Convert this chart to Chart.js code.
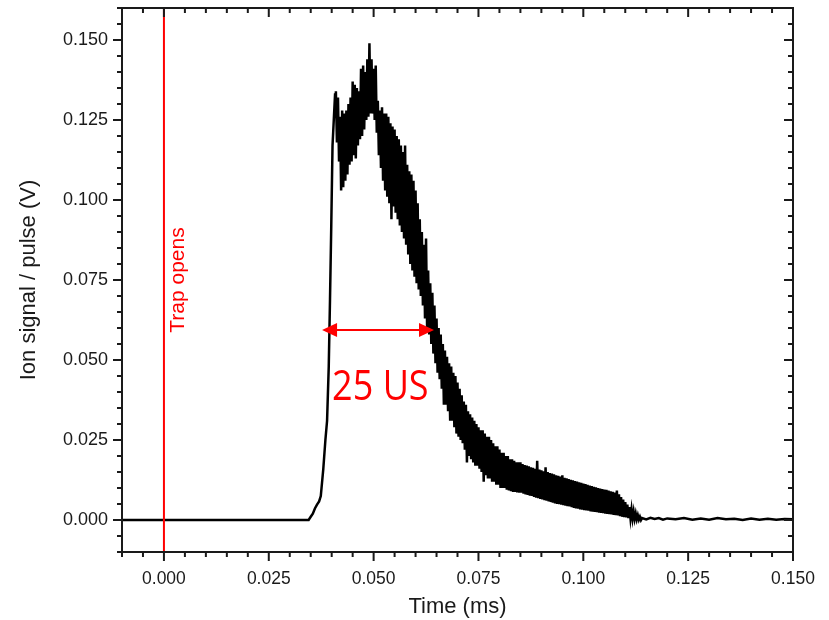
<!DOCTYPE html>
<html>
<head>
<meta charset="utf-8">
<script src="https://cdn.jsdelivr.net/npm/chart.js@4.4.1/dist/chart.umd.min.js"></script>
<style>
  html, body { margin: 0; padding: 0; background: #fff; }
</style>
</head>
<body>
<canvas id="pulse" width="829" height="620"></canvas>
<script>
// baseline + steep rise of the ion pulse (time in ms, signal in V)
const riseTimes = [-0.010, 0.000, 0.010, 0.020, 0.030, 0.0345,
  0.0350, 0.0355, 0.0360, 0.0365, 0.0370, 0.0374, 0.0380, 0.0385, 0.0389, 0.0393,
  0.0396, 0.0399, 0.0402, 0.0405, 0.0408];
const riseSignal = [0.0000, 0.0000, 0.0000, 0.0000, 0.0000, 0.0000,
  0.0010, 0.0020, 0.0036, 0.0048, 0.0058, 0.0075, 0.0160, 0.0250, 0.0310, 0.0480,
  0.0690, 0.0920, 0.1170, 0.1250, 0.1330];

// noisy top of the pulse, sampled finely
const pulseTimes = [
  0.04100, 0.04125, 0.04150, 0.04175, 0.04200, 0.04225, 0.04250, 0.04275, 0.04300, 0.04325,
  0.04350, 0.04375, 0.04400, 0.04425, 0.04450, 0.04475, 0.04500, 0.04525, 0.04550, 0.04575,
  0.04600, 0.04625, 0.04650, 0.04675, 0.04700, 0.04725, 0.04750, 0.04775, 0.04800, 0.04825,
  0.04850, 0.04875, 0.04900, 0.04925, 0.04950, 0.04975, 0.05000, 0.05025, 0.05050, 0.05075,
  0.05100, 0.05125, 0.05150, 0.05175, 0.05200, 0.05225, 0.05250, 0.05275, 0.05300, 0.05325,
  0.05350, 0.05375, 0.05400, 0.05425, 0.05450, 0.05475, 0.05500, 0.05525, 0.05550, 0.05575,
  0.05600, 0.05625, 0.05650, 0.05675, 0.05700, 0.05725, 0.05750, 0.05775, 0.05800, 0.05825,
  0.05850, 0.05875, 0.05900, 0.05925, 0.05950, 0.05975, 0.06000, 0.06025, 0.06050, 0.06075,
  0.06100, 0.06125, 0.06150, 0.06175, 0.06200, 0.06225, 0.06250, 0.06275, 0.06300, 0.06325,
  0.06350, 0.06375, 0.06400, 0.06425, 0.06450, 0.06475, 0.06500, 0.06525, 0.06550, 0.06575,
  0.06600, 0.06625, 0.06650, 0.06675, 0.06700, 0.06725, 0.06750, 0.06775, 0.06800, 0.06825,
  0.06850, 0.06875, 0.06900, 0.06925, 0.06950, 0.06975, 0.07000, 0.07025, 0.07050, 0.07075,
  0.07100, 0.07125, 0.07150, 0.07175, 0.07200, 0.07225, 0.07250, 0.07275, 0.07300, 0.07325,
  0.07350, 0.07375, 0.07400, 0.07425, 0.07450, 0.07475, 0.07500, 0.07525, 0.07550, 0.07575,
  0.07600, 0.07625, 0.07650, 0.07675, 0.07700, 0.07725, 0.07750, 0.07775, 0.07800, 0.07825,
  0.07850, 0.07875, 0.07900, 0.07925, 0.07950, 0.07975, 0.08000, 0.08025, 0.08050, 0.08075,
  0.08100, 0.08125, 0.08150, 0.08175, 0.08200, 0.08225, 0.08250, 0.08275, 0.08300, 0.08325,
  0.08350, 0.08375, 0.08400, 0.08425, 0.08450, 0.08475];
const pulseSignal = [
  0.134, 0.118, 0.132, 0.112, 0.126, 0.103, 0.128, 0.104, 0.127, 0.106,
  0.128, 0.108, 0.130, 0.111, 0.132, 0.112, 0.137, 0.114, 0.136, 0.113,
  0.135, 0.117, 0.134, 0.119, 0.141, 0.120, 0.142, 0.122, 0.140, 0.125,
  0.144, 0.126, 0.149, 0.127, 0.144, 0.127, 0.141, 0.125, 0.142, 0.121,
  0.131, 0.114, 0.128, 0.110, 0.129, 0.106, 0.127, 0.103, 0.127, 0.101,
  0.126, 0.099, 0.124, 0.094, 0.123, 0.098, 0.122, 0.096, 0.120, 0.094,
  0.119, 0.092, 0.117, 0.090, 0.115, 0.088, 0.117, 0.086, 0.111, 0.083,
  0.109, 0.080, 0.108, 0.078, 0.106, 0.076, 0.103, 0.074, 0.099, 0.072,
  0.094, 0.070, 0.090, 0.067, 0.086, 0.063, 0.088, 0.060, 0.078, 0.058,
  0.074, 0.055, 0.071, 0.052, 0.067, 0.049, 0.063, 0.046, 0.060, 0.044,
  0.058, 0.041, 0.055, 0.036, 0.053, 0.036, 0.051, 0.034, 0.049, 0.031,
  0.048, 0.031, 0.046, 0.029, 0.045, 0.027, 0.043, 0.026, 0.041, 0.025,
  0.039, 0.024, 0.037, 0.022, 0.036, 0.018, 0.034, 0.020, 0.033, 0.019,
  0.032, 0.018, 0.031, 0.017, 0.030, 0.017, 0.029, 0.016, 0.028, 0.015,
  0.028, 0.012, 0.027, 0.014, 0.026, 0.013, 0.026, 0.013, 0.025, 0.012,
  0.024, 0.012, 0.023, 0.011, 0.023, 0.011, 0.022, 0.010, 0.021, 0.010,
  0.021, 0.010, 0.020, 0.0095, 0.020, 0.0092, 0.019, 0.009, 0.019, 0.0088,
  0.0185, 0.0088, 0.018, 0.0086, 0.018, 0.0085];

// slow decay towards the end of the pulse
const decayTimes = [
  0.08500, 0.08525, 0.08550, 0.08575, 0.08600, 0.08625, 0.08650, 0.08675, 0.08700, 0.08725,
  0.08750, 0.08775, 0.08800, 0.08825, 0.08850, 0.08875, 0.08900, 0.08925, 0.08950, 0.08975,
  0.09000, 0.09025, 0.09050, 0.09075, 0.09100, 0.09125, 0.09150, 0.09175, 0.09200, 0.09225,
  0.09250, 0.09275, 0.09300, 0.09325, 0.09350, 0.09375, 0.09400, 0.09425, 0.09450, 0.09475,
  0.09500, 0.09525, 0.09550, 0.09575, 0.09600, 0.09625, 0.09650, 0.09675, 0.09700, 0.09725,
  0.09750, 0.09775, 0.09800, 0.09825, 0.09850, 0.09875, 0.09900, 0.09925, 0.09950, 0.09975,
  0.10000, 0.10025, 0.10050, 0.10075, 0.10100, 0.10125, 0.10150, 0.10175, 0.10200, 0.10225,
  0.10250, 0.10275, 0.10300, 0.10325, 0.10350, 0.10375, 0.10400, 0.10425, 0.10450, 0.10475,
  0.10500, 0.10525, 0.10550, 0.10575, 0.10600, 0.10625, 0.10650, 0.10675, 0.10700, 0.10725,
  0.10750, 0.10775, 0.10800, 0.10825, 0.10850, 0.10875, 0.10900, 0.10925, 0.10950, 0.10975,
  0.11000, 0.11025, 0.11050, 0.11075, 0.11100, 0.11125, 0.11150, 0.11175, 0.11200, 0.11225,
  0.11250, 0.11275, 0.11300, 0.11325, 0.11350, 0.11375, 0.11400];
const decaySignal = [
  0.0180, 0.0085, 0.0175, 0.0082, 0.0172, 0.0080, 0.0170, 0.0078, 0.0168, 0.0076,
  0.0165, 0.0075, 0.0163, 0.0072, 0.0160, 0.0070, 0.0185, 0.0068, 0.0158, 0.0066,
  0.0155, 0.0064, 0.0152, 0.0062, 0.0165, 0.0060, 0.0150, 0.0058, 0.0147, 0.0056,
  0.0145, 0.0054, 0.0143, 0.0052, 0.0140, 0.0050, 0.0138, 0.0049, 0.0136, 0.0048,
  0.0140, 0.0046, 0.0132, 0.0045, 0.0130, 0.0043, 0.0128, 0.0042, 0.0126, 0.0040,
  0.0124, 0.0038, 0.0122, 0.0036, 0.0120, 0.0035, 0.0118, 0.0033, 0.0116, 0.0032,
  0.0114, 0.0031, 0.0112, 0.0030, 0.0110, 0.0029, 0.0108, 0.0027, 0.0106, 0.0026,
  0.0104, 0.0025, 0.0102, 0.0024, 0.0100, 0.0023, 0.0098, 0.0022, 0.0097, 0.0021,
  0.0095, 0.0020, 0.0094, 0.0019, 0.0092, 0.0018, 0.0090, 0.0017, 0.0088, 0.0016,
  0.0086, 0.0015, 0.0092, 0.0014, 0.0080, 0.0012, 0.0072, 0.0010, 0.0064, 0.0009,
  0.0056, 0.0008, 0.0048, 0.0006, 0.0040, 0.0005, 0.0033, 0.0004, 0.0026, 0.0003,
  0.0020, 0.0002, 0.0015, 0.0001, 0.0010, 0.0000, 0.0006];

// flat tail after the pulse
const tailTimes = [0.1150, 0.1160, 0.1170, 0.1180, 0.1190, 0.1200, 0.1220, 0.1240, 0.1260, 0.1280,
  0.1300, 0.1320, 0.1340, 0.1360, 0.1380, 0.1400, 0.1420, 0.1440, 0.1460, 0.1480, 0.1500];
const tailSignal = [0.0002, 0.0007, 0.0003, 0.0006, 0.0001, 0.0005, 0.0002, 0.0006, 0.0001, 0.0005,
  0.0001, 0.0006, 0.0002, 0.0004, 0.0000, 0.0005, 0.0001, 0.0004, 0.0001, 0.0003, 0.0002];

// annotations
const trapTime = 0.0;
const trapLabel = 'Trap opens';
const arrowFrom = 0.0377;
const arrowTo = 0.0644;
const arrowLevel = 0.0594;
const widthLabel = '25 US';
const widthLabelPos = [0.0401, 0.0375];

const RED = '#ff0000';
const INK = '#1a1a1a';
const FONT = '"Liberation Sans", Arial, sans-serif';

function isMajor(v) {
    return Math.round(v * 1000) % 25 === 0;
}

const allTimes = riseTimes.concat(pulseTimes, decayTimes, tailTimes);
const allSignal = riseSignal.concat(pulseSignal, decaySignal, tailSignal);
const points = allTimes.map((t, i) => ({ x: t, y: allSignal[i] }));

// frame with outward ticks on left/bottom, inward ticks on top/right
const frameTicks = {
    id: 'frameTicks',
    afterDatasetsDraw(chart) {
        const { ctx, chartArea: a, scales: { x, y } } = chart;
        ctx.save();
        // trap line
        const tx = x.getPixelForValue(trapTime);
        ctx.strokeStyle = RED;
        ctx.lineWidth = 2;
        ctx.beginPath();
        ctx.moveTo(tx, a.top);
        ctx.lineTo(tx, a.bottom);
        ctx.stroke();

        ctx.fillStyle = RED;
        ctx.font = '21px ' + FONT;
        ctx.textAlign = 'center';
        ctx.textBaseline = 'middle';
        ctx.save();
        ctx.translate(tx + 14, y.getPixelForValue(0.075));
        ctx.rotate(-Math.PI / 2);
        ctx.fillText(trapLabel, 0, 0);
        ctx.restore();

        // double arrow
        const x1 = x.getPixelForValue(arrowFrom);
        const x2 = x.getPixelForValue(arrowTo);
        const ay = y.getPixelForValue(arrowLevel);
        const head = 15, hw = 7;
        ctx.beginPath();
        ctx.moveTo(x1 + head - 2, ay);
        ctx.lineTo(x2 - head + 2, ay);
        ctx.stroke();
        ctx.beginPath();
        ctx.moveTo(x1, ay);
        ctx.lineTo(x1 + head, ay - hw);
        ctx.lineTo(x1 + head, ay + hw);
        ctx.closePath();
        ctx.fill();
        ctx.beginPath();
        ctx.moveTo(x2, ay);
        ctx.lineTo(x2 - head, ay - hw);
        ctx.lineTo(x2 - head, ay + hw);
        ctx.closePath();
        ctx.fill();

        ctx.save();
        ctx.translate(x.getPixelForValue(widthLabelPos[0]), y.getPixelForValue(widthLabelPos[1]));
        ctx.scale(1, 1.15);
        ctx.font = '36px "Open Sans", "Noto Sans", sans-serif';
        ctx.textAlign = 'left';
        ctx.textBaseline = 'alphabetic';
        ctx.fillText(widthLabel, 0, 0);
        ctx.restore();
        ctx.restore();
    },
    afterDraw(chart) {
        const { ctx, chartArea: a, scales: { x, y } } = chart;
        ctx.save();
        ctx.strokeStyle = INK;
        ctx.lineWidth = 2;
        ctx.strokeRect(a.left, a.top, a.right - a.left, a.bottom - a.top);
        ctx.beginPath();
        x.ticks.forEach(t => {
            const px = x.getPixelForValue(t.value);
            const len = isMajor(t.value) ? 9 : 5;
            ctx.moveTo(px, a.bottom);
            ctx.lineTo(px, a.bottom + len);
            ctx.moveTo(px, a.top);
            ctx.lineTo(px, a.top + len);
        });
        y.ticks.forEach(t => {
            const py = y.getPixelForValue(t.value);
            const len = isMajor(t.value) ? 9 : 5;
            ctx.moveTo(a.left - len, py);
            ctx.lineTo(a.left, py);
            ctx.moveTo(a.right - len, py);
            ctx.lineTo(a.right, py);
        });
        ctx.stroke();
        ctx.restore();
    }
};

const ctx = document.getElementById('pulse').getContext('2d');
window.pulseChart = new Chart(ctx, {
    type: 'line',
    data: {
        datasets: [{
            label: 'Ion signal',
            data: points,
            borderColor: '#000',
            borderWidth: 2.5,
            pointRadius: 0,
            tension: 0,
            fill: false,
        }],
    },
    options: {
        responsive: false,
        animation: false,
        layout: { padding: { left: 0, right: 36, top: 8, bottom: 0 } },
        plugins: {
            legend: { display: false },
            tooltip: { enabled: false },
        },
        scales: {
            x: {
                type: 'linear',
                min: -0.01,
                max: 0.15,
                afterFit: s => { s.height = 68; s.paddingLeft = 0; s.paddingRight = 0; },
                grid: { display: false },
                border: { display: false },
                ticks: {
                    stepSize: 0.005,
                    autoSkip: false,
                    maxRotation: 0,
                    padding: 9,
                    color: INK,
                    font: { family: FONT, size: 17.5 },
                    callback: v => isMajor(v) ? v.toFixed(3) : '',
                },
                title: {
                    display: true,
                    text: 'Time (ms)',
                    color: INK,
                    font: { family: FONT, size: 22 },
                    padding: { top: 0, bottom: 0 },
                },
            },
            y: {
                min: -0.01,
                max: 0.16,
                afterFit: s => { s.width = 122; s.paddingTop = 0; s.paddingBottom = 0; },
                grid: { display: false },
                border: { display: false },
                ticks: {
                    stepSize: 0.005,
                    autoSkip: false,
                    padding: 6,
                    color: INK,
                    font: { family: FONT, size: 18 },
                    callback: v => (isMajor(v) && v >= 0 && v < 0.155) ? v.toFixed(3) : '',
                },
                title: {
                    display: true,
                    text: 'Ion signal / pulse (V)',
                    color: INK,
                    font: { family: FONT, size: 22 },
                    padding: { top: 16, bottom: 0 },
                },
            },
        },
    },
    plugins: [frameTicks],
});
</script>
</body>
</html>
